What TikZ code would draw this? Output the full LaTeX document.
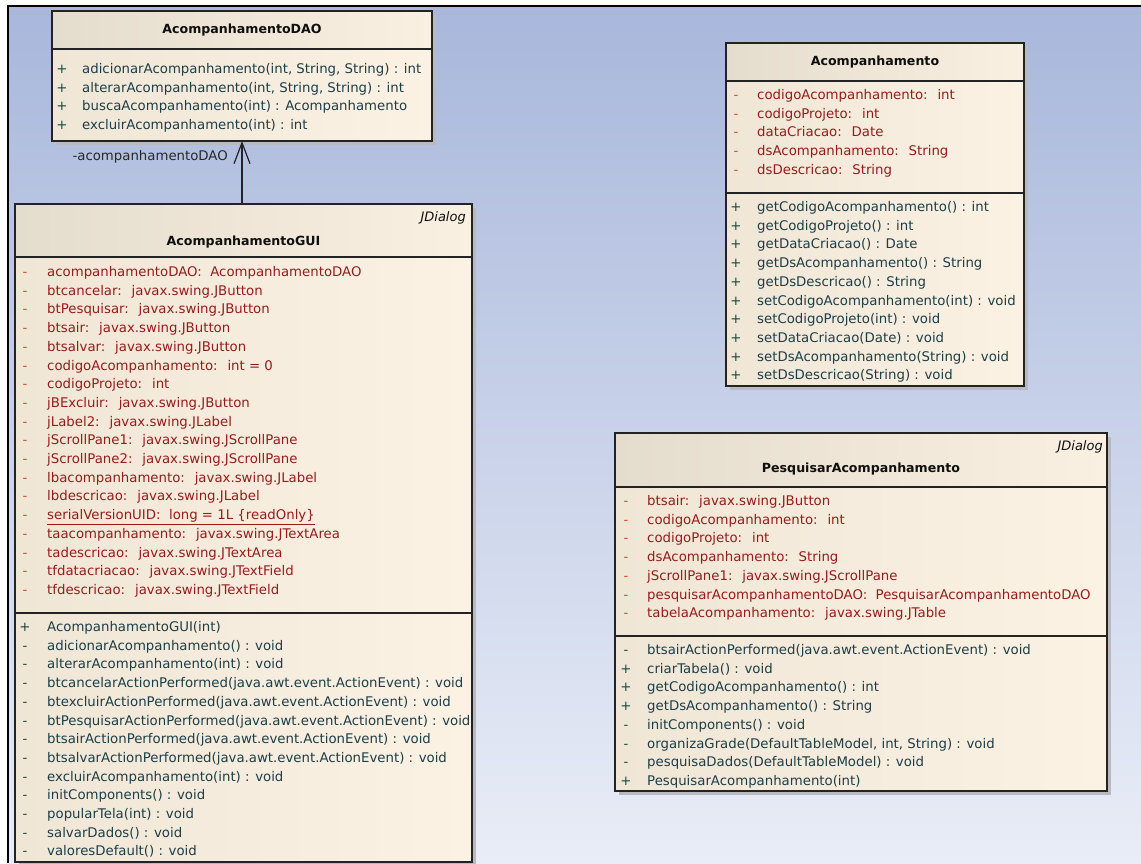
\documentclass[tikz,border=0pt]{standalone}
\usepackage{fontspec}
\setmainfont{DejaVu Sans}
\usetikzlibrary{arrows.meta,positioning,calc,shadows}
\definecolor{bgTop}{RGB}{168,183,219}
\definecolor{bgBot}{RGB}{233,237,247}
\definecolor{headL}{RGB}{228,220,205}
\definecolor{headR}{RGB}{250,240,225}
\definecolor{bodyL}{RGB}{240,230,214}
\definecolor{bodyR}{RGB}{252,242,228}
\definecolor{clsLine}{RGB}{35,35,35}
\definecolor{clsShadow}{RGB}{185,186,192}
\definecolor{attrInk}{RGB}{150,28,28}
\definecolor{attrSign}{RGB}{205,75,45}
\definecolor{methInk}{RGB}{28,62,72}
\definecolor{methSign}{RGB}{25,75,65}
\definecolor{nameInk}{RGB}{15,15,15}
\definecolor{roleInk}{RGB}{40,40,40}

\begin{document}
\begin{tikzpicture}[x=1pt,y=-1pt]
\tikzset{
cls/.style={draw=clsLine,line width=1.2pt,left color=bodyL,right color=bodyR,
anchor=north west,inner sep=0pt,outer sep=0pt,
drop shadow={shadow xshift=4pt,shadow yshift=-4pt,fill=clsShadow,opacity=1}},
clshead/.style={draw=clsLine,line width=1.2pt,left color=headL,right color=headR,
anchor=north west,inner sep=0pt,outer sep=0pt},
clsname/.style={font=\fontsize{12.6}{15}\selectfont\bfseries,text=nameInk,inner sep=0pt},
stereo/.style={font=\fontsize{13}{15}\selectfont\itshape,text=nameInk,anchor=east,inner sep=0pt},
attrsign/.style={font=\fontsize{13.3}{16}\selectfont,text=attrSign,inner sep=0pt,
text height=9.5pt,text depth=2.5pt},
attrtxt/.style={font=\fontsize{13.3}{16}\selectfont,text=attrInk,anchor=west,inner sep=0pt,
text height=9.5pt,text depth=2.5pt},
methsign/.style={attrsign,text=methSign},
methtxt/.style={attrtxt,text=methInk},
sepline/.style={draw=clsLine,line width=1.2pt},
assoc/.style={draw=clsLine,line width=1.2pt,-{Straight Barb[length=21pt,width=16pt]}},
rolelbl/.style={font=\fontsize{13.3}{16}\selectfont,text=roleInk,anchor=east,inner sep=0pt}
}
% canvas
\useasboundingbox (0,0) rectangle (1141,863);
\fill[white] (0,0) rectangle (1141,863);
\shade[top color=bgTop,bottom color=bgBot] (9,7) rectangle (1141,863);
\draw[black,line width=2.2pt] (8,863) -- (8,6) -- (1141,6);
\draw[clsShadow,line width=1pt] (9,9.5) -- (1141,9.5);

% AcompanhamentoDAO
\node[cls,minimum width=380,minimum height=130] (dao) at (52,11) {};
\node[clshead,minimum width=380,minimum height=38] (daohd) at (dao.north west) {};
\node[clsname] (daoname) at (daohd.center) {AcompanhamentoDAO};
\foreach \t [count=\i from 0] in {{adicionarAcompanhamento(int, String, String) : int},
  {alterarAcompanhamento(int, String, String) : int},
  {buscaAcompanhamento(int) : Acompanhamento},
  {excluirAcompanhamento(int) : int}}{
  \node[methsign] (daos\i) at (62,{70+18.7*\i}) {+};
  \node[methtxt] (daom\i) at (82,{70+18.7*\i}) {\t};
}

% AcompanhamentoGUI
\node[cls,minimum width=457,minimum height=658] (gui) at (15,204) {};
\node[clshead,minimum width=457,minimum height=53] (guihd) at (gui.north west) {};
\node[stereo] (guist) at (466,218) {JDialog};
\node[clsname] (guiname) at ($(guihd.south)+(0,-15)$) {AcompanhamentoGUI};
\draw[sepline] (gui.west |- 0,613) -- (gui.east |- 0,613);
\begin{scope}
\clip (gui.north west) rectangle ([xshift=-1pt]gui.south east);
\foreach \t [count=\i from 0] in {{acompanhamentoDAO:~ AcompanhamentoDAO},
  {btcancelar:~ javax.swing.JButton},{btPesquisar:~ javax.swing.JButton},
  {btsair:~ javax.swing.JButton},{btsalvar:~ javax.swing.JButton},
  {codigoAcompanhamento:~ int = 0},{codigoProjeto:~ int},
  {jBExcluir:~ javax.swing.JButton},{jLabel2:~ javax.swing.JLabel},
  {jScrollPane1:~ javax.swing.JScrollPane},{jScrollPane2:~ javax.swing.JScrollPane},
  {lbacompanhamento:~ javax.swing.JLabel},{lbdescricao:~ javax.swing.JLabel},
  {\underline{serialVersionUID:~ long = 1L \{readOnly\}}},
  {taacompanhamento:~ javax.swing.JTextArea},{tadescricao:~ javax.swing.JTextArea},
  {tfdatacriacao:~ javax.swing.JTextField},{tfdescricao:~ javax.swing.JTextField}}{
  \node[attrsign] (guias\i) at (25,{273+18.7*\i}) {-};
  \node[attrtxt] (guia\i) at (47,{273+18.7*\i}) {\t};
}
\foreach \s/\t [count=\i from 0] in {+/{AcompanhamentoGUI(int)},
  -/{adicionarAcompanhamento() : void},-/{alterarAcompanhamento(int) : void},
  -/{btcancelarActionPerformed(java.awt.event.ActionEvent) : void},
  -/{btexcluirActionPerformed(java.awt.event.ActionEvent) : void},
  -/{btPesquisarActionPerformed(java.awt.event.ActionEvent) : void},
  -/{btsairActionPerformed(java.awt.event.ActionEvent) : void},
  -/{btsalvarActionPerformed(java.awt.event.ActionEvent) : void},
  -/{excluirAcompanhamento(int) : void},-/{initComponents() : void},
  -/{popularTela(int) : void},-/{salvarDados() : void},-/{valoresDefault() : void}}{
  \node[methsign] (guims\i) at (25,{628+18.7*\i}) {\s};
  \node[methtxt] (guim\i) at (47,{628+18.7*\i}) {\t};
}
\end{scope}

% Acompanhamento
\node[cls,minimum width=298,minimum height=343] (acomp) at (726,43) {};
\node[clshead,minimum width=298,minimum height=38] (acomphd) at (acomp.north west) {};
\node[clsname] (acompname) at (acomphd.center) {Acompanhamento};
\draw[sepline] (acomp.west |- 0,193) -- (acomp.east |- 0,193);
\foreach \t [count=\i from 0] in {{codigoAcompanhamento:~ int},{codigoProjeto:~ int},
  {dataCriacao:~ Date},{dsAcompanhamento:~ String},{dsDescricao:~ String}}{
  \node[attrsign] (acompas\i) at (736,{96+18.7*\i}) {-};
  \node[attrtxt] (acompa\i) at (757,{96+18.7*\i}) {\t};
}
\foreach \t [count=\i from 0] in {{getCodigoAcompanhamento() : int},
  {getCodigoProjeto() : int},{getDataCriacao() : Date},
  {getDsAcompanhamento() : String},{getDsDescricao() : String},
  {setCodigoAcompanhamento(int) : void},{setCodigoProjeto(int) : void},
  {setDataCriacao(Date) : void},{setDsAcompanhamento(String) : void},
  {setDsDescricao(String) : void}}{
  \node[methsign] (acompms\i) at (736,{208+18.7*\i}) {+};
  \node[methtxt] (acompm\i) at (757,{208+18.7*\i}) {\t};
}

% PesquisarAcompanhamento
\node[cls,minimum width=492,minimum height=358] (pesq) at (615,433) {};
\node[clshead,minimum width=492,minimum height=54] (pesqhd) at (pesq.north west) {};
\node[stereo] (pesqst) at (1103,447) {JDialog};
\node[clsname] (pesqname) at ($(pesqhd.south)+(0,-18)$) {PesquisarAcompanhamento};
\draw[sepline] (pesq.west |- 0,636) -- (pesq.east |- 0,636);
\foreach \t [count=\i from 0] in {{btsair:~ javax.swing.JButton},
  {codigoAcompanhamento:~ int},{codigoProjeto:~ int},{dsAcompanhamento:~ String},
  {jScrollPane1:~ javax.swing.JScrollPane},
  {pesquisarAcompanhamentoDAO:~ PesquisarAcompanhamentoDAO},
  {tabelaAcompanhamento:~ javax.swing.JTable}}{
  \node[attrsign] (pesqas\i) at (626,{502+18.7*\i}) {-};
  \node[attrtxt] (pesqa\i) at (647,{502+18.7*\i}) {\t};
}
\foreach \s/\t [count=\i from 0] in {-/{btsairActionPerformed(java.awt.event.ActionEvent) : void},
  +/{criarTabela() : void},+/{getCodigoAcompanhamento() : int},
  +/{getDsAcompanhamento() : String},-/{initComponents() : void},
  -/{organizaGrade(DefaultTableModel, int, String) : void},
  -/{pesquisaDados(DefaultTableModel) : void},+/{PesquisarAcompanhamento(int)}}{
  \node[methsign] (pesqms\i) at (626,{651+18.7*\i}) {\s};
  \node[methtxt] (pesqm\i) at (647,{651+18.7*\i}) {\t};
}

% association GUI -> DAO
\draw[assoc] (gui.north -| dao.south) -- (dao.south);
\node[rolelbl] (daorole) at ($(dao.south)+(-14,16)$) {-acompanhamentoDAO};
\end{tikzpicture}
\end{document}
